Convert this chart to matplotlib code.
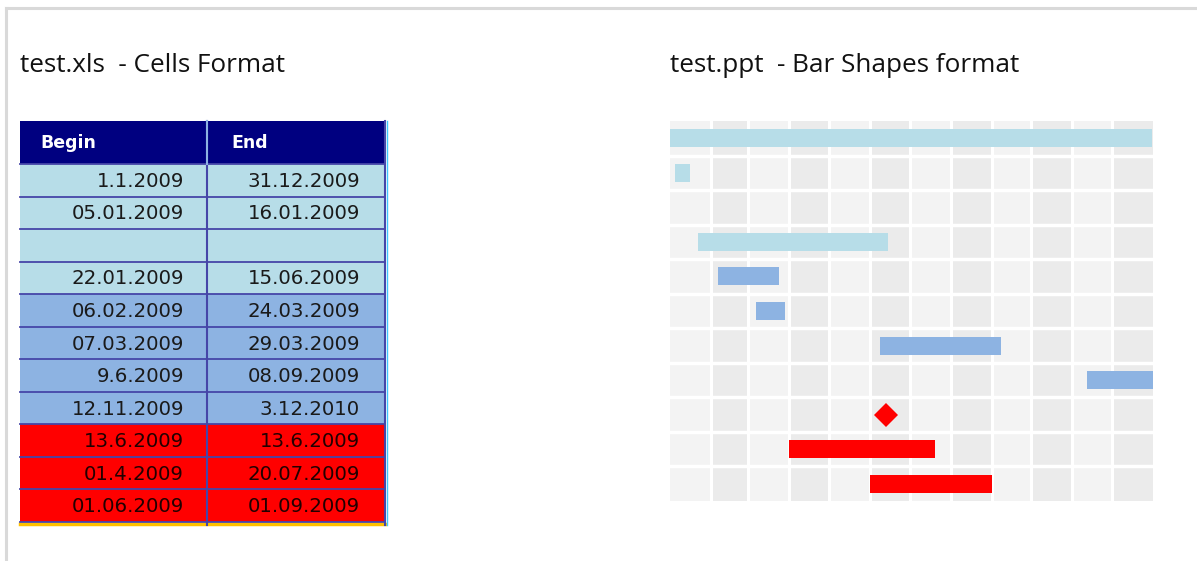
import matplotlib
matplotlib.use("Agg")
from matplotlib import pyplot as plt
from matplotlib.patches import Rectangle
from datetime import datetime

begin = ["1.1.2009", "05.01.2009", "", "22.01.2009", "06.02.2009", "07.03.2009",
         "9.6.2009", "12.11.2009", "13.6.2009", "01.4.2009", "01.06.2009"]
end = ["31.12.2009", "16.01.2009", "", "15.06.2009", "24.03.2009", "29.03.2009",
       "08.09.2009", "3.12.2010", "13.6.2009", "20.07.2009", "01.09.2009"]
group = ["light", "light", "light", "light", "mid", "mid", "mid", "mid", "red", "red", "red"]
header = ["Begin", "End"]
months = list(range(1, 13))

colors = {"light": "#b7dde8", "mid": "#8db3e2", "red": "#ff0000"}

W, H = 1197, 561
fig = plt.figure(figsize=(W / 100, H / 100), dpi=100)

# fond en pixels
bg = fig.add_axes([0, 0, 1, 1])
bg.set_xlim(0, W)
bg.set_ylim(H, 0)
bg.axis("off")

# cadre gris de la capture
bg.plot([6, 6], [8, H], color="#d9d9d9", lw=2.2)
bg.plot([6, W], [8, 8], color="#d9d9d9", lw=2.2)

title_font = "Open Sans"
bg.text(20, 65, "test.xls  - Cells Format", fontsize=18.8, family=title_font, va="center", color="#111111")
bg.text(670, 65, "test.ppt  - Bar Shapes format", fontsize=18.8, family=title_font, va="center", color="#111111")

# Tableau
x0, xm, x1 = 20, 207, 385
top, head_bot = 121, 164
row_h = (522 - head_bot) / len(begin)
line_c = "#4646a8"

bg.add_patch(Rectangle((x0, top), x1 - x0, head_bot - top, color="#000080", lw=0))
bg.text(40, 143, header[0], color="white", fontsize=12.5, fontweight="bold", va="center", family="DejaVu Sans")
bg.text(231, 143, header[1], color="white", fontsize=12.5, fontweight="bold", va="center", family="DejaVu Sans")

for i, (b, e, g) in enumerate(zip(begin, end, group)):
    y = head_bot + i * row_h
    bg.add_patch(Rectangle((x0, y), x1 - x0, row_h, color=colors[g], lw=0))
    tc = "#220000" if g == "red" else "#1a1a1a"
    bg.text(184, y + row_h / 2 + 1, b, ha="right", va="center", fontsize=14.2, color=tc, family="DejaVu Sans")
    bg.text(360, y + row_h / 2 + 1, e, ha="right", va="center", fontsize=14.2, color=tc, family="DejaVu Sans")
    bg.plot([x0, x1], [y, y], color=line_c, lw=1.3)

bottom = head_bot + len(begin) * row_h
bg.plot([x0, x1], [bottom + 2, bottom + 2], color="#ffc000", lw=2.5)
bg.plot([x0, x1], [bottom, bottom], color=line_c, lw=1.3)
bg.plot([xm, xm], [top, bottom + 3], color=line_c, lw=1.5)
bg.plot([x1, x1], [top, bottom + 3], color=line_c, lw=1.5)
bg.plot([x1 + 2, x1 + 2], [top, bottom + 3], color="#40c8ff", lw=1)
bg.plot([xm, xm], [top, head_bot], color="#8db3e2", lw=1.5)

# Gantt
gx0, gx1, gy0, gy1 = 670, 1153, 121, 501
ax = fig.add_axes([gx0 / W, 1 - gy1 / H, (gx1 - gx0) / W, (gy1 - gy0) / H])
start = datetime(2009, 1, 1)
n_days = (datetime(2010, 1, 1) - start).days
month_start = [(datetime(2009, m, 1) - start).days for m in months] + [n_days]

for k in range(12):
    ax.axvspan(month_start[k], month_start[k + 1], color="#f3f3f3" if k % 2 == 0 else "#ebebeb", lw=0, zorder=0)
for d in month_start[1:-1]:
    ax.axvline(d, color="white", lw=2.2, zorder=1)
for r in range(1, len(begin)):
    ax.axhline(r - 0.5, color="white", lw=2.5, zorder=1)


def to_day(s):
    return (datetime.strptime(s, "%d.%m.%Y") - start).days


for i, (b, e, g) in enumerate(zip(begin, end, group)):
    if not b:
        continue
    d0, d1 = to_day(b), to_day(e)
    if d0 == d1:
        ax.plot(d0, i, marker="D", ms=12, color=colors[g], mew=0, zorder=3)
    else:
        ax.barh(i, d1 - d0, left=d0, height=0.52, color=colors[g], lw=0, zorder=2)

ax.set_xlim(0, n_days)
ax.set_ylim(len(begin) - 0.5, -0.5)
ax.axis("off")

fig.savefig("out.png", dpi=100)
